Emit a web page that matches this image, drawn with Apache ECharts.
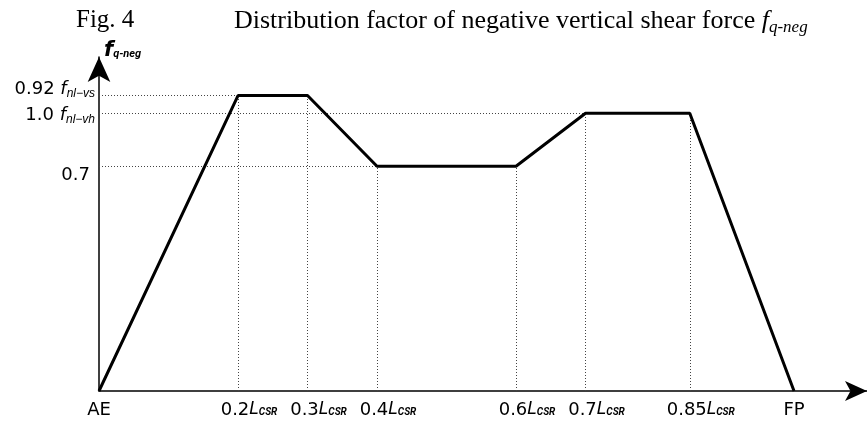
<!DOCTYPE html>
<html><head><meta charset="utf-8">
<script src="https://cdn.jsdelivr.net/npm/echarts@6/dist/echarts.min.js"></script>
<style>html,body{margin:0;padding:0;background:#fff}#c{width:867px;height:421px}</style>
</head><body><div id="c"></div>
<script>
// data
const xPos = [0, 0.2, 0.3, 0.4, 0.6, 0.7, 0.85, 1.0];
const yVal = [0, 0.92, 0.92, 0.7, 0.7, 0.865, 0.865, 0];
const xTickValues = [0, 0.2, 0.3, 0.4, 0.6, 0.7, 0.85, 1.0];
const xTickLabels = ['AE', '0.2', '0.3', '0.4', '0.6', '0.7', '0.85', 'FP'];
const yTickValues = [0.7, 0.865, 0.92];
const yTickLabels = ['0.7', '1.0', '0.92'];
const yTickSubs = ['', 'nl\u2212vh', 'nl\u2212vs'];
const hGuideTo = [0.4, 0.85, 0.2];

const lineData = xPos.map((x, i) => [x, yVal[i]]);
const guides = [];
for (let i = 1; i < xPos.length - 1; i++) {
  guides.push([{coord: [xPos[i], 0]}, {coord: [xPos[i], yVal[i]]}]);
}
yTickValues.forEach((v, i) => guides.push([{coord: [0, v]}, {coord: [hGuideTo[i], v]}]));

const chart = echarts.init(document.getElementById('c'), null, {renderer: 'canvas'});
const lblFont = 'DejaVu Sans';
const subFont = 'Roboto';
const serif = 'Liberation Serif';
chart.setOption({
  animation: false,
  title: [
    {text: 'Fig. 4', left: 71, top: 3, textStyle: {fontFamily: serif, fontSize: 25, fontWeight: 'normal', color: '#000'}},
    {text: '{b|Distribution factor of negative vertical shear force }{f|f}{s|q-neg}', left: 229, top: 2,
     textStyle: {fontWeight: 'normal', rich: {
       b: {fontFamily: serif, fontSize: 26, fontWeight: 'normal', color: '#000'},
       f: {fontFamily: serif, fontSize: 26, fontStyle: 'italic', fontWeight: 'normal', color: '#000'},
       s: {fontFamily: serif, fontSize: 17, fontStyle: 'italic', fontWeight: 'normal', color: '#000', padding: [12, 0, 0, 0]}
     }}}
  ],
  grid: {left: 99, right: 0, top: 57, bottom: 30, containLabel: false},
  xAxis: {
    type: 'value', min: 0, max: 1.105,
    axisLine: {lineStyle: {color: '#000', width: 1.5}, symbol: ['none', 'arrow'], symbolSize: [15, 22]},
    axisTick: {show: false},
    splitLine: {show: false},
    axisLabel: {
      customValues: xTickValues,
      hideOverlap: false,
      margin: 10,
      formatter: function (v) {
        const i = xTickValues.findIndex(t => Math.abs(t - v) < 1e-6);
        if (i < 0) return '';
        const t = xTickLabels[i];
        if (t === 'AE' || t === 'FP') return '{n|' + t + '}';
        return '{pad|}{n|' + t + '}{L|L}{s|CSR}';
      },
      rich: {
        n: {fontFamily: lblFont, fontSize: 18, color: '#000'},
        L: {fontFamily: lblFont, fontSize: 17, fontStyle: 'italic', color: '#000'},
        s: {fontFamily: subFont, fontSize: 10, fontStyle: 'italic', fontWeight: 'bold', color: '#000', padding: [4, 0, 0, 0]},
        pad: {width: 22}
      }
    }
  },
  yAxis: {
    type: 'value', min: 0, max: 1.04,
    name: '{f|f}{s|q-neg}', nameLocation: 'end', nameGap: -4,
    nameTextStyle: {align: 'left', padding: [0, 0, 0, 5], rich: {
      f: {fontFamily: lblFont, fontSize: 21, fontStyle: 'italic', fontWeight: 'bold', color: '#000'},
      s: {fontFamily: subFont, fontSize: 11, fontStyle: 'italic', fontWeight: 'bold', color: '#000', padding: [8, 0, 0, 0]}
    }},
    axisLine: {lineStyle: {color: '#000', width: 1.5}, symbol: ['none', 'arrow'], symbolSize: [17, 25]},
    axisTick: {show: false},
    splitLine: {show: false},
    axisLabel: {
      customValues: yTickValues,
      hideOverlap: false,
      margin: 4,
      formatter: function (v) {
        const i = yTickValues.findIndex(t => Math.abs(t - v) < 1e-6);
        if (i < 0) return '';
        if (!yTickSubs[i]) return '{lo|' + yTickLabels[i] + '}';
        if (i === 2) return '{hn|' + yTickLabels[i] + ' }{hf|f}{hs|' + yTickSubs[i] + '}';
        return '{n|' + yTickLabels[i] + ' }{f|f}{s|' + yTickSubs[i] + '}';
      },
      rich: {
        n: {fontFamily: lblFont, fontSize: 18, color: '#000', padding: [4, 0, 0, 0]},
        f: {fontFamily: lblFont, fontSize: 18, fontStyle: 'italic', color: '#000', padding: [4, 0, 0, 0]},
        s: {fontFamily: 'Liberation Sans', fontSize: 12, fontStyle: 'italic', color: '#000', padding: [12, 0, 0, 0]},
        hn: {fontFamily: lblFont, fontSize: 18, color: '#000', padding: [0, 0, 12, 0]},
        hf: {fontFamily: lblFont, fontSize: 18, fontStyle: 'italic', color: '#000', padding: [0, 0, 12, 0]},
        hs: {fontFamily: 'Liberation Sans', fontSize: 12, fontStyle: 'italic', color: '#000', padding: [0, 0, 4, 0]},
        lo: {fontFamily: lblFont, fontSize: 18, color: '#000', padding: [18, 5, 0, 0]}
      }
    }
  },
  series: [{
    type: 'line', data: lineData, symbol: 'none',
    lineStyle: {color: '#000', width: 3},
    z: 5,
    markLine: {
      silent: true, symbol: ['none', 'none'], label: {show: false},
      lineStyle: {color: '#444', width: 1, type: [1, 2]},
      data: guides, z: 1
    }
  }]
});
</script></body></html>
